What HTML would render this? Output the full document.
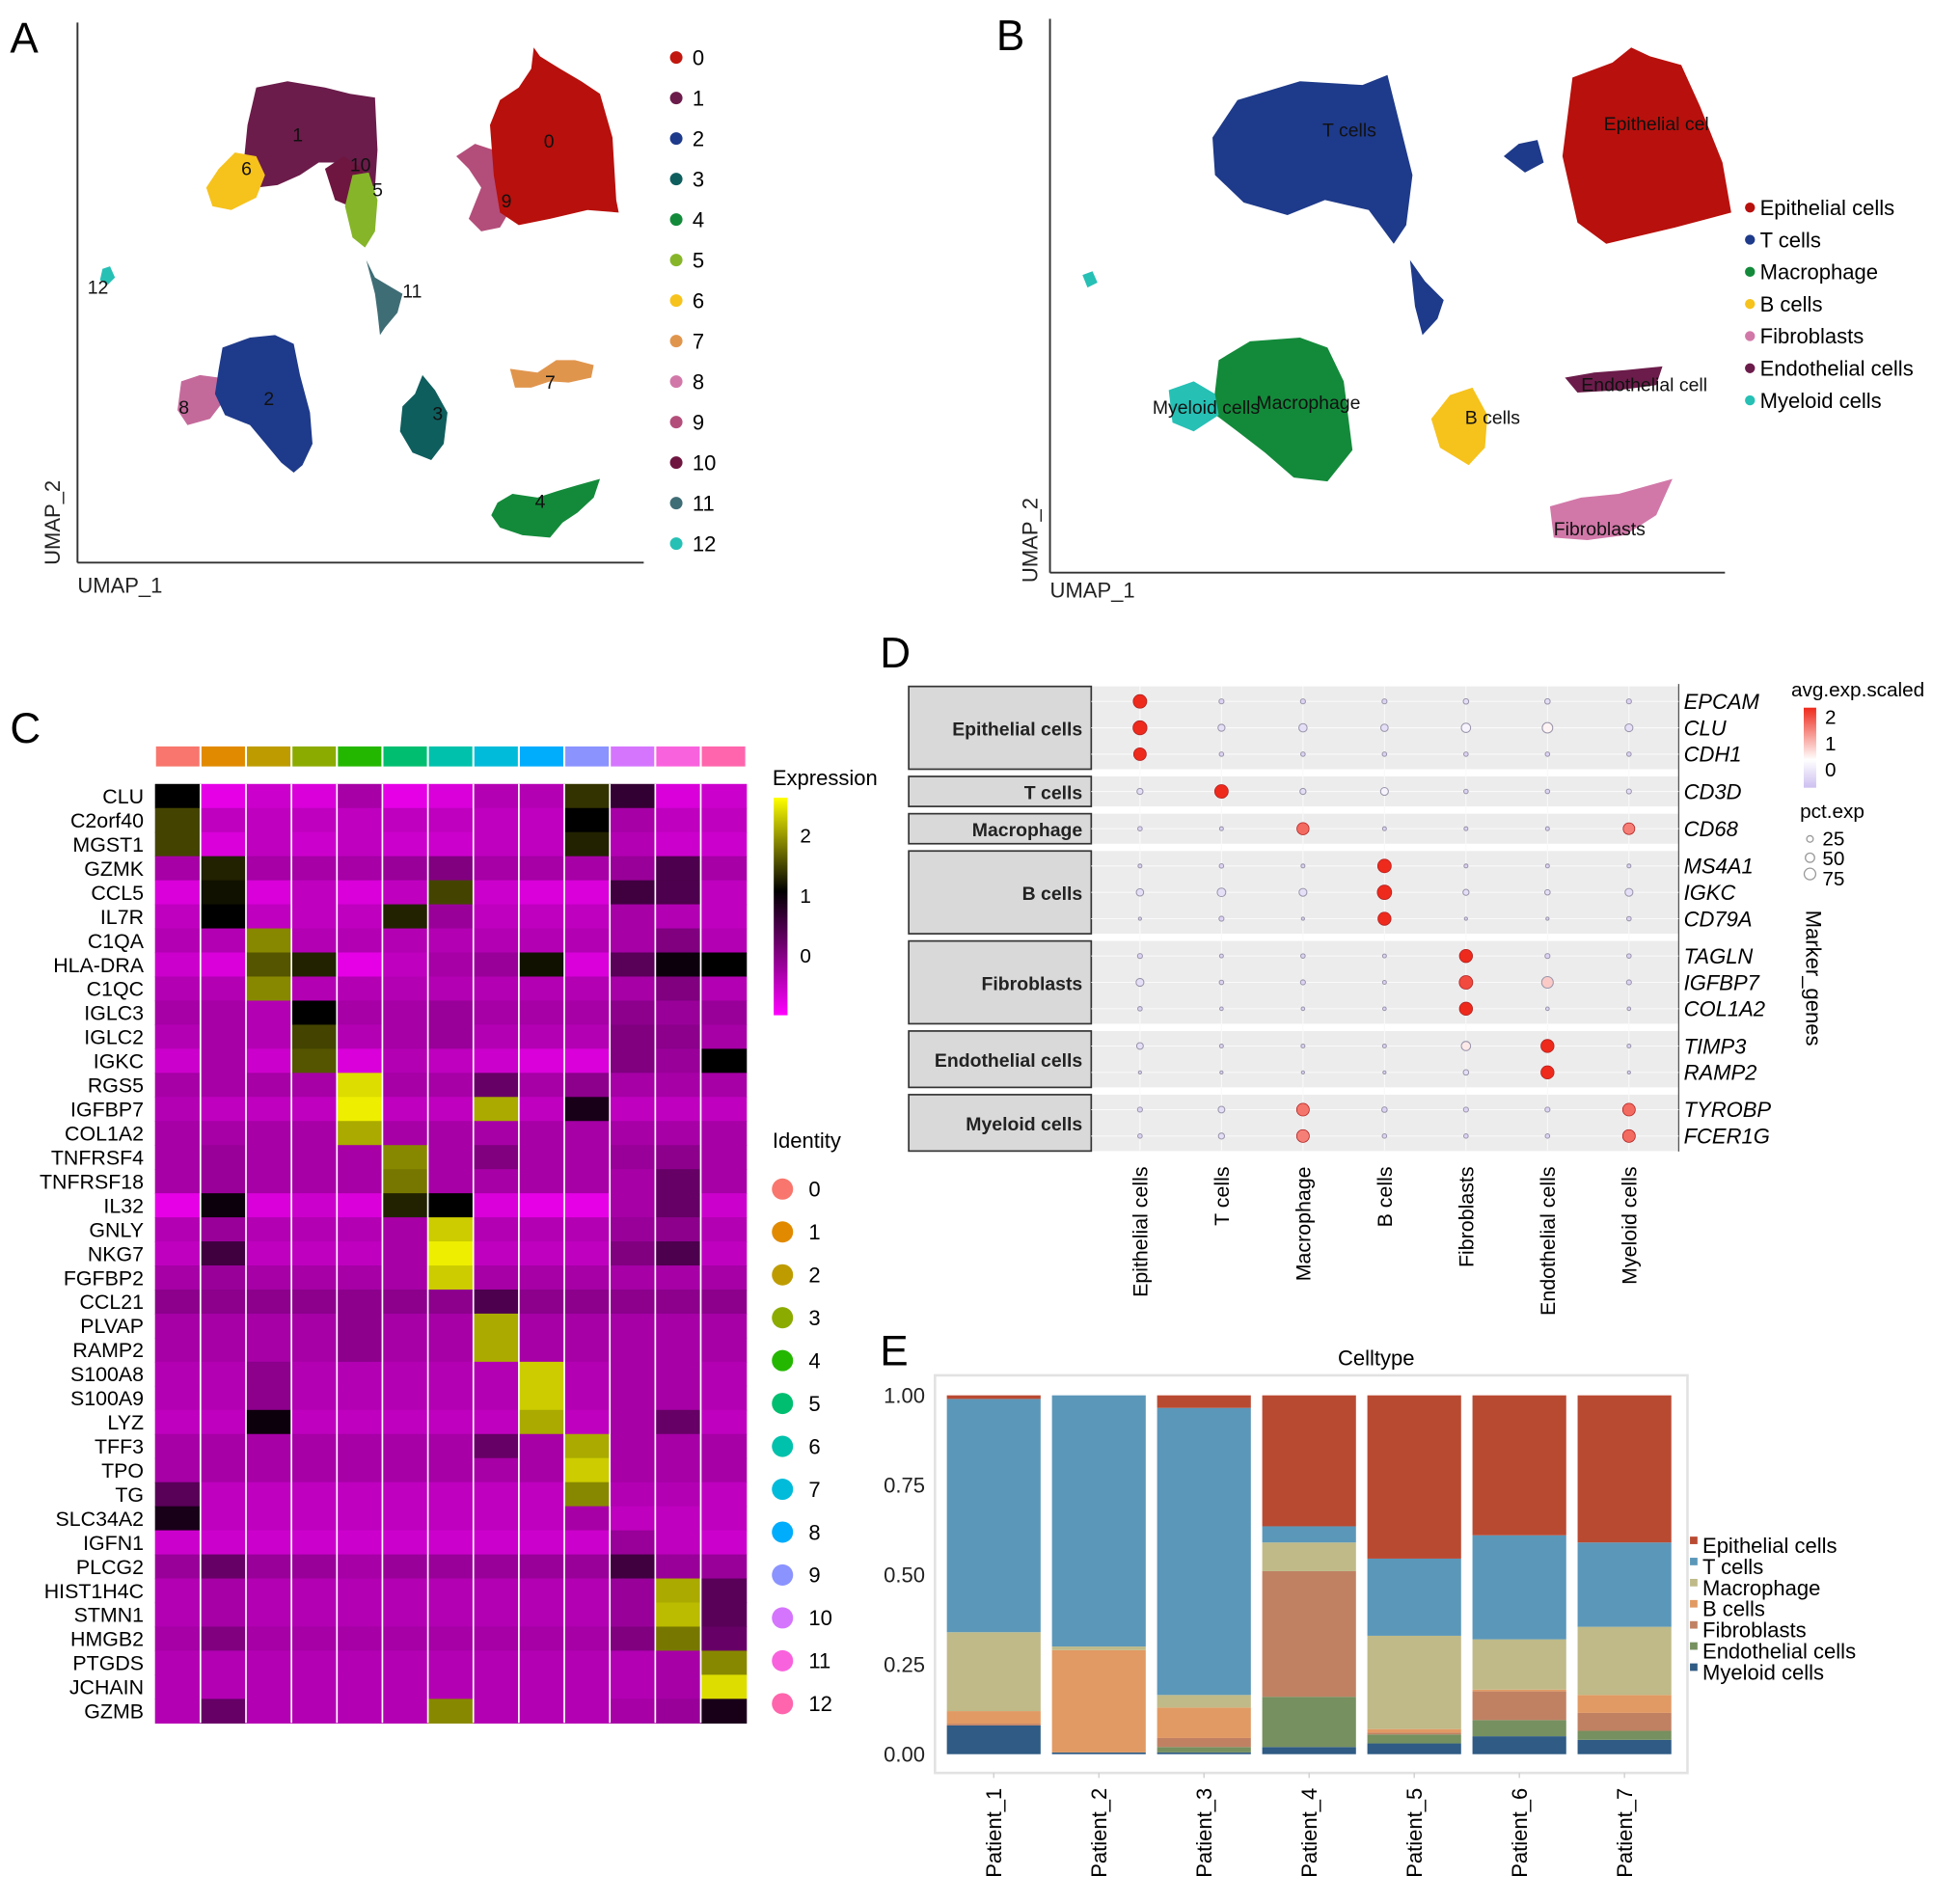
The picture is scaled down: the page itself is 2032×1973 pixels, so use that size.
<!DOCTYPE html>
<html><head><meta charset="utf-8">
<style>
html,body{margin:0;padding:0;background:#fff;}
svg{display:block;font-family:"Liberation Sans",Arial,sans-serif;}
</style></head>
<body>
<svg id="fig" width="2032" height="1973" viewBox="0 0 2032 1973" xmlns="http://www.w3.org/2000/svg">
<g id="root" transform="scale(1.2959,1.2963)">
<rect x="0" y="0" width="1568" height="1522" fill="#fff"/>

<!-- Panel A -->
<g>
<text x="8" y="42" font-size="34">A</text>
<line x1="62" y1="18" x2="62" y2="450" stroke="#333" stroke-width="1.5"/>
<line x1="62" y1="450" x2="515" y2="450" stroke="#333" stroke-width="1.5"/>
<text x="62" y="474" font-size="17" fill="#222">UMAP_1</text>
<text transform="translate(48,452) rotate(-90)" font-size="17" fill="#222">UMAP_2</text>
<g>
<polygon fill="#b34e7a" points="365,125 380,115 395,120 405,140 410,165 400,182 385,185 375,175 385,150 375,135"/>
<polygon fill="#b8100c" points="427,38 432,45 440,50 448,55 465,65 480,75 490,110 493,160 495,170 470,168 440,175 415,180 400,170 395,140 392,100 400,80 415,70 425,55"/>
<polygon fill="#6b1c4a" points="205,70 230,65 260,70 280,75 300,78 302,120 300,150 288,142 270,130 255,130 240,140 222,148 205,150 195,130 198,100"/>
<polygon fill="#f6c21c" points="188,122 205,125 212,140 205,158 185,168 170,165 165,150 175,135"/>
<polygon fill="#6e1640" points="260,135 275,125 290,135 292,155 280,165 268,160"/>
<polygon fill="#86b52a" points="282,140 295,138 302,160 300,185 292,198 282,190 276,165"/>
<polygon fill="#3f6d75" points="293,208 300,222 310,228 322,235 318,250 308,262 304,268 302,250 300,235"/>
<polygon fill="#26c0b5" points="82,215 88,213 92,222 86,228 80,224"/>
<polygon fill="#c46a9b" points="145,305 160,300 175,302 178,322 168,335 150,340 142,328"/>
<polygon fill="#1e3a8a" points="178,278 200,270 220,268 235,275 240,300 248,330 250,355 242,372 235,378 225,370 210,352 200,340 180,332 172,315 175,295"/>
<polygon fill="#0f5e5e" points="338,300 348,312 358,330 355,355 345,368 330,362 320,345 322,325 332,315"/>
<polygon fill="#e0954d" points="408,295 430,298 445,288 460,288 475,292 473,302 455,306 440,305 425,310 412,310"/>
<polygon fill="#138a3a" points="398,402 410,395 430,398 445,393 462,388 480,383 475,398 462,410 450,418 440,430 418,428 400,422 393,412"/>
</g>
<g font-size="15" fill="#111">
<text x="435" y="118">0</text><text x="234" y="113">1</text><text x="193" y="140">6</text><text x="280" y="137">10</text><text x="298" y="157">5</text><text x="401" y="166">9</text><text x="322" y="238">11</text><text x="70" y="235">12</text><text x="143" y="331">8</text><text x="211" y="324">2</text><text x="346" y="336">3</text><text x="436" y="311">7</text><text x="428" y="406">4</text>
</g>
<g id="legendA"></g>
</g>

<!-- Panel B -->
<g>
<text x="797" y="40" font-size="34">B</text>
<line x1="840" y1="15" x2="840" y2="458" stroke="#333" stroke-width="1.5"/>
<line x1="840" y1="458" x2="1380" y2="458" stroke="#333" stroke-width="1.5"/>
<text x="840" y="478" font-size="17" fill="#222">UMAP_1</text>
<text transform="translate(830,466) rotate(-90)" font-size="17" fill="#222">UMAP_2</text>
<g>
<polygon fill="#1e3a8a" points="970,110 990,80 1040,65 1090,68 1110,60 1120,100 1130,140 1125,180 1115,195 1095,168 1060,160 1030,172 995,162 972,140"/>
<polygon fill="#1e3a8a" points="1128,208 1140,225 1155,240 1150,255 1138,268 1132,245"/>
<polygon fill="#b8100c" points="1258,62 1290,50 1305,38 1320,45 1345,52 1360,85 1378,130 1385,170 1340,182 1285,195 1262,178 1250,125"/>
<polygon fill="#1e3a8a" points="1203,125 1215,115 1230,112 1235,130 1220,138"/>
<polygon fill="#26c0b5" points="866,220 874,217 878,226 870,230"/>
<polygon fill="#138a3a" points="975,288 1000,273 1040,270 1062,278 1075,305 1082,360 1062,385 1035,382 1012,362 990,345 970,330"/>
<polygon fill="#26c0b5" points="935,312 955,305 972,315 975,332 955,345 938,338"/>
<polygon fill="#f6c21c" points="1160,316 1178,310 1190,332 1188,358 1175,372 1152,358 1145,335"/>
<polygon fill="#6b1c4a" points="1252,302 1275,298 1300,296 1330,293 1325,308 1295,312 1262,314"/>
<polygon fill="#d178a8" points="1240,405 1265,398 1295,395 1320,388 1338,383 1325,412 1300,428 1270,432 1243,430"/>
</g>
<g font-size="15" fill="#111">
<text x="1058" y="109">T cells</text><text x="1283" y="104">Epithelial cel</text><text x="922" y="331">Myeloid cells</text><text x="1005" y="327">Macrophage</text><text x="1172" y="339">B cells</text><text x="1265" y="313">Endothelial cell</text><text x="1243" y="428">Fibroblasts</text>
</g>
<g id="legendB"></g>
</g>

<!-- Panel C -->
<g>
<text x="8" y="594" font-size="34">C</text>
<g id="heat"></g>
<text x="618" y="628" font-size="17">Expression</text>
<defs><linearGradient id="gradC" x1="0" y1="1" x2="0" y2="0">
<stop offset="0" stop-color="#ff00ff"/><stop offset="0.571" stop-color="#000"/><stop offset="1" stop-color="#ffff00"/></linearGradient>
<linearGradient id="gradD" x1="0" y1="1" x2="0" y2="0">
<stop offset="0" stop-color="#cdbff0"/><stop offset="0.35" stop-color="#fff"/><stop offset="1" stop-color="#ee2a1c"/></linearGradient></defs>
<rect x="619" y="638" width="11" height="174" fill="url(#gradC)"/>
<g font-size="16"><text x="640" y="674">2</text><text x="640" y="722">1</text><text x="640" y="770">0</text></g>
<text x="618" y="918" font-size="17">Identity</text>
<g id="legendC"></g>
</g>

<!-- Panel D -->
<g>
<text x="704" y="534" font-size="34">D</text>
<g id="dot"></g>
<text x="1433" y="557" font-size="16">avg.exp.scaled</text>
<rect x="1443" y="566" width="10" height="64" fill="url(#gradD)"/>
<g font-size="16"><text x="1460" y="579">2</text><text x="1460" y="600">1</text><text x="1460" y="621">0</text></g>
<text x="1440" y="654" font-size="16">pct.exp</text>
<g fill="none" stroke="#999">
<circle cx="1448" cy="671" r="2.6"/><circle cx="1448" cy="686" r="3.7"/><circle cx="1448" cy="699" r="4.6"/></g>
<g font-size="16"><text x="1458" y="676">25</text><text x="1458" y="692">50</text><text x="1458" y="708">75</text></g>
<text transform="translate(1445,728) rotate(90)" font-size="17">Marker_genes</text>
</g>

<!-- Panel E -->
<g>
<text x="704" y="1092" font-size="34">E</text>
<text x="1101" y="1092" font-size="17" text-anchor="middle">Celltype</text>
<rect x="748" y="1100" width="602" height="318" fill="#fff" stroke="#e2e2e2" stroke-width="2"/>
<g id="bars"></g>
</g>
</g>
</svg>
<script>
const NS="http://www.w3.org/2000/svg";
function mk(tag,attrs,parent){const e=document.createElementNS(NS,tag);for(const k in attrs)e.setAttribute(k,attrs[k]);parent.appendChild(e);return e;}

// ---- Legend A / B ----
const clusterIds=["0","1","2","3","4","5","6","7","8","9","10","11","12"];
const clusterColorsA=["#c1170e","#6b1c4a","#1e3a8a","#0f5e5e","#138a3a","#86b52a","#f6c21c","#e0954d","#d178a8","#b34e7a","#6e1640","#3f6d75","#26c0b5"];
const gA=document.getElementById('legendA');
clusterIds.forEach((c,i)=>{const y=46+32.4*i;
 const d=mk('circle',{cx:541,cy:y,r:5,fill:clusterColorsA[i]},gA);
 
 
 const t=mk('text',{x:554,y:y+6,'font-size':17},gA);t.textContent=c;
 
 });
const cellTypes=["Epithelial cells","T cells","Macrophage","B cells","Fibroblasts","Endothelial cells","Myeloid cells"];
const cellColorsB=["#b8100c","#1e3a8a","#138a3a","#f6c21c","#d178a8","#6b1c4a","#26c0b5"];
const gB=document.getElementById('legendB');
cellTypes.forEach((c,i)=>{const y=166+25.7*i;
 const d=mk('circle',{cx:1400,cy:y,r:4,fill:cellColorsB[i]},gB);
 
 
 const t=mk('text',{x:1408,y:y+6,'font-size':17},gB);t.textContent=c;
 
 });

// ---- Panel C heatmap ----
const heatGenes=["CLU","C2orf40","MGST1","GZMK","CCL5","IL7R","C1QA","HLA-DRA","C1QC","IGLC3","IGLC2","IGKC","RGS5","IGFBP7","COL1A2","TNFRSF4","TNFRSF18","IL32","GNLY","NKG7","FGFBP2","CCL21","PLVAP","RAMP2","S100A8","S100A9","LYZ","TFF3","TPO","TG","SLC34A2","IGFN1","PLCG2","HIST1H4C","STMN1","HMGB2","PTGDS","JCHAIN","GZMB"];
const identColors=["#F8766D","#E18A00","#BE9C00","#8CAB00","#24B700","#00BE70","#00C1AB","#00BBDA","#00ACFC","#8B93FF","#D575FE","#F962DD","#FF65AC"];
const heatValues=[
[1.0,-0.8,-0.6,-0.7,-0.3,-0.8,-0.7,-0.4,-0.4,1.3,0.6,-0.7,-0.6],
[1.4,-0.5,-0.5,-0.5,-0.5,-0.5,-0.5,-0.5,-0.5,1.0,-0.3,-0.5,-0.5],
[1.4,-0.7,-0.5,-0.6,-0.5,-0.6,-0.6,-0.5,-0.5,1.2,-0.4,-0.6,-0.6],
[-0.3,1.2,-0.3,-0.3,-0.3,-0.2,0.0,-0.3,-0.3,-0.3,-0.2,0.4,-0.3],
[-0.7,1.1,-0.7,-0.5,-0.7,-0.5,1.4,-0.6,-0.7,-0.7,0.5,0.4,-0.5],
[-0.5,1.0,-0.5,-0.5,-0.5,1.2,-0.2,-0.5,-0.5,-0.5,-0.3,-0.4,-0.5],
[-0.4,-0.4,1.8,-0.4,-0.4,-0.4,-0.4,-0.4,-0.4,-0.4,-0.3,0.0,-0.4],
[-0.6,-0.7,1.5,1.2,-0.8,-0.5,-0.3,-0.2,1.1,-0.7,0.3,0.9,1.0],
[-0.4,-0.4,1.8,-0.4,-0.4,-0.4,-0.4,-0.4,-0.4,-0.4,-0.3,0.0,-0.4],
[-0.3,-0.3,-0.4,1.0,-0.3,-0.3,-0.2,-0.3,-0.3,-0.3,-0.1,-0.2,-0.2],
[-0.4,-0.3,-0.4,1.4,-0.4,-0.3,-0.2,-0.4,-0.4,-0.4,0.0,-0.1,-0.3],
[-0.6,-0.3,-0.6,1.5,-0.7,-0.4,-0.5,-0.6,-0.7,-0.7,0.0,-0.2,1.0],
[-0.3,-0.3,-0.3,-0.3,2.3,-0.3,-0.3,0.2,-0.3,-0.1,-0.3,-0.3,-0.3],
[-0.4,-0.5,-0.5,-0.5,2.4,-0.5,-0.5,2.0,-0.5,0.8,-0.5,-0.5,-0.5],
[-0.3,-0.3,-0.3,-0.3,2.0,-0.3,-0.3,-0.3,-0.3,-0.3,-0.3,-0.3,-0.3],
[-0.3,-0.2,-0.3,-0.3,-0.3,1.8,-0.3,0.0,-0.3,-0.3,-0.2,-0.1,-0.3],
[-0.3,-0.2,-0.3,-0.3,-0.3,1.7,-0.3,-0.3,-0.3,-0.3,-0.3,0.2,-0.3],
[-0.8,0.9,-0.7,-0.6,-0.7,1.2,1.0,-0.7,-0.8,-0.8,-0.3,0.2,-0.6],
[-0.4,-0.2,-0.4,-0.4,-0.4,-0.3,2.2,-0.4,-0.4,-0.4,-0.2,-0.1,-0.4],
[-0.5,0.5,-0.5,-0.5,-0.5,-0.3,2.4,-0.5,-0.5,-0.5,0.0,0.4,-0.5],
[-0.3,-0.2,-0.3,-0.3,-0.3,-0.3,2.2,-0.3,-0.3,-0.3,-0.3,-0.3,-0.3],
[-0.1,-0.1,-0.1,-0.1,-0.1,-0.1,-0.1,0.4,-0.1,-0.1,-0.1,-0.1,-0.1],
[-0.3,-0.3,-0.3,-0.3,-0.1,-0.3,-0.3,2.0,-0.3,-0.3,-0.3,-0.3,-0.3],
[-0.3,-0.3,-0.3,-0.3,-0.1,-0.3,-0.3,2.0,-0.3,-0.3,-0.3,-0.3,-0.3],
[-0.4,-0.4,-0.1,-0.4,-0.4,-0.4,-0.4,-0.4,2.2,-0.4,-0.3,-0.3,-0.4],
[-0.4,-0.4,-0.1,-0.4,-0.4,-0.4,-0.4,-0.4,2.2,-0.4,-0.3,-0.3,-0.4],
[-0.5,-0.5,0.9,-0.5,-0.5,-0.5,-0.5,-0.5,2.0,-0.5,-0.3,0.2,-0.5],
[-0.3,-0.3,-0.3,-0.3,-0.3,-0.3,-0.3,0.2,-0.3,2.0,-0.3,-0.3,-0.3],
[-0.3,-0.3,-0.3,-0.3,-0.3,-0.3,-0.3,-0.3,-0.3,2.2,-0.3,-0.3,-0.3],
[0.3,-0.5,-0.5,-0.5,-0.5,-0.5,-0.5,-0.5,-0.5,1.8,-0.4,-0.4,-0.5],
[0.8,-0.5,-0.5,-0.5,-0.5,-0.5,-0.5,-0.5,-0.5,-0.3,-0.5,-0.5,-0.5],
[-0.6,-0.6,-0.6,-0.6,-0.6,-0.6,-0.6,-0.6,-0.6,-0.6,-0.2,-0.5,-0.6],
[-0.2,0.2,-0.2,-0.2,-0.3,-0.2,-0.2,-0.2,-0.2,-0.2,0.5,-0.2,-0.2],
[-0.4,-0.3,-0.4,-0.4,-0.4,-0.4,-0.4,-0.4,-0.4,-0.4,-0.2,2.0,0.3],
[-0.4,-0.3,-0.4,-0.4,-0.4,-0.4,-0.4,-0.4,-0.4,-0.4,-0.2,2.1,0.3],
[-0.3,0.0,-0.3,-0.3,-0.3,-0.3,-0.3,-0.3,-0.3,-0.3,0.0,1.7,0.2],
[-0.4,-0.4,-0.4,-0.4,-0.4,-0.4,-0.4,-0.4,-0.4,-0.4,-0.4,-0.3,1.8],
[-0.4,-0.4,-0.4,-0.4,-0.4,-0.4,-0.4,-0.4,-0.4,-0.4,-0.4,-0.3,2.3],
[-0.4,0.2,-0.4,-0.4,-0.4,-0.4,1.8,-0.4,-0.4,-0.4,-0.3,-0.2,0.8]];
function heatColor(v){v=Math.max(-1,Math.min(2.5,v));
 if(v<=1){const t=(v+1)/2;const c=Math.round(255*(1-t));return `rgb(${c},0,${c})`;}
 const t=(v-1)/1.5;const c=Math.round(255*t);return `rgb(${c},${c},0)`;}
const hx0=124,hx1=597,hy0=627,hy1=1378;
const hxs=i=>hx0+(hx1-hx0)*i/clusterIds.length;
const hys=j=>hy0+(hy1-hy0)*j/heatGenes.length;
const gH=document.getElementById('heat');
clusterIds.forEach((c,i)=>{
 const r=mk('rect',{x:hxs(i)+0.8,y:597,width:hxs(i+1)-hxs(i)-1.6,height:16,fill:identColors[i]},gH);
 
 });
heatGenes.forEach((g,j)=>{
 heatValues[j].forEach((v,i)=>{
  const r=mk('rect',{x:hxs(i),y:hys(j),width:hxs(i+1)-hxs(i)+0.5,height:hys(j+1)-hys(j)+0.5,fill:heatColor(v)},gH);
  
  });
 const t=mk('text',{x:115,y:(hys(j)+hys(j+1))/2+6,'font-size':16.5,'text-anchor':'end'},gH);t.textContent=g;
 
 });
for(let i=1;i<clusterIds.length;i++){
 const l=mk('line',{x1:hxs(i),x2:hxs(i),y1:hy0,y2:hy1,stroke:'#fff','stroke-width':1.3},gH);
 
 }
const gLC=document.getElementById('legendC');
clusterIds.forEach((c,i)=>{const y=951+34.3*i;
 const d=mk('circle',{cx:626,cy:y,r:8.5,fill:identColors[i]},gLC);
 
 
 const t=mk('text',{x:647,y:y+6,'font-size':17},gLC);t.textContent=c;
 
 });

// ---- Panel D dot plot ----
const dotGenes=["EPCAM","CLU","CDH1","CD3D","CD68","MS4A1","IGKC","CD79A","TAGLN","IGFBP7","COL1A2","TIMP3","RAMP2","TYROBP","FCER1G"];
const dotFacets=["Epithelial cells","T cells","Macrophage","B cells","Fibroblasts","Endothelial cells","Myeloid cells"];
const dotFacetSizes=[3,1,1,3,3,2,2];
const dotAvg=[
[2,-0.4,-0.4,-0.4,-0.3,-0.3,-0.4],
[2,-0.3,-0.3,-0.3,-0.1,0.1,-0.3],
[2,-0.4,-0.4,-0.4,-0.4,-0.4,-0.4],
[-0.3,2,-0.3,-0.1,-0.4,-0.4,-0.3],
[-0.4,-0.4,1.4,-0.4,-0.4,-0.4,1.2],
[-0.4,-0.4,-0.4,2,-0.4,-0.4,-0.4],
[-0.3,-0.3,-0.3,2,-0.3,-0.3,-0.3],
[-0.4,-0.4,-0.4,2,-0.4,-0.4,-0.4],
[-0.4,-0.4,-0.4,-0.4,2,-0.4,-0.4],
[-0.3,-0.4,-0.4,-0.4,1.7,0.5,-0.4],
[-0.4,-0.4,-0.4,-0.4,2,-0.4,-0.4],
[-0.3,-0.4,-0.4,-0.4,0.2,2,-0.4],
[-0.4,-0.4,-0.4,-0.4,-0.3,2,-0.4],
[-0.4,-0.3,1.3,-0.4,-0.4,-0.4,1.4],
[-0.4,-0.3,1.2,-0.4,-0.4,-0.4,1.4]];
const dotPct=[
[75,10,10,10,12,12,10],
[80,20,28,22,35,45,25],
[65,8,8,8,8,8,8],
[15,75,15,25,8,8,10],
[8,6,60,6,6,6,55],
[6,8,6,75,6,6,6],
[22,30,25,85,15,12,25],
[4,10,4,70,4,4,8],
[10,6,8,6,70,10,8],
[25,8,10,6,75,55,10],
[8,5,5,5,70,5,5],
[18,6,6,6,35,70,6],
[4,4,4,4,12,70,4],
[10,18,65,12,10,10,65],
[8,15,65,8,8,8,65]];
function dotColor(v){
 if(v>=0){const t=Math.min(1,v/2);return `rgb(${Math.round(255-17*t)},${Math.round(255-213*t)},${Math.round(255-227*t)})`;}
 const t=Math.min(1,-v/0.6);return `rgb(${Math.round(255-50*t)},${Math.round(255-64*t)},${Math.round(255-15*t)})`;}
const dxs=i=>912+65.2*i;
const facetOfRow=[];dotFacetSizes.forEach((n,f)=>{for(let k=0;k<n;k++)facetOfRow.push(f);});
const dys=k=>561+21.1*k+8.7*facetOfRow[k];
const gD=document.getElementById('dot');
let rowStart=0;
dotFacets.forEach((f,fi)=>{
 const n=dotFacetSizes[fi];
 const top=dys(rowStart)-12,bot=dys(rowStart+n-1)+12;
 const bg=mk('rect',{x:873,y:top,width:470,height:bot-top,fill:'#ececec'},gD);
 
 
 const s=mk('rect',{x:727,y:top,width:146,height:bot-top,fill:'#d9d9d9',stroke:'#333','stroke-width':1.3},gD);
 
 
 const t=mk('text',{x:866,y:(top+bot)/2+6,'font-size':15,'font-weight':'bold','text-anchor':'end',fill:'#222'},gD);t.textContent=f;
 
 
 rowStart+=n;});
for(let i=0;i<dotFacets.length;i++){
 const l=mk('line',{x1:dxs(i),x2:dxs(i),y1:549,y2:920,stroke:'#fafafa','stroke-width':0.8},gD);
 
 }
const ax=mk('line',{x1:1343,x2:1343,y1:547,y2:921,stroke:'#555','stroke-width':1},gD);


dotGenes.forEach((g,k)=>{
 const y=dys(k);
 const gl=mk('line',{x1:873,x2:1343,y1:y,y2:y,stroke:'#fafafa','stroke-width':0.8},gD);
 
 
 dotAvg[k].forEach((v,i)=>{
  const r=5.6*Math.sqrt(dotPct[k][i]/80);
  const c=mk('circle',{cx:dxs(i),cy:y,r:r,fill:dotColor(v),stroke:v>1?'#b02020':'#9a95aa','stroke-width':v>1?0.6:0.8},gD);
  
  });
 const t=mk('text',{x:1347,y:y+6,'font-size':17,'font-style':'italic'},gD);t.textContent=g;
 
 });
dotFacets.forEach((f,i)=>{
 const t=mk('text',{transform:`translate(${dxs(i)+6},933) rotate(-90)`,'font-size':16.5,'text-anchor':'end'},gD);t.textContent=f;
 
 });

// ---- Panel E stacked bars ----
const patients=["Patient_1","Patient_2","Patient_3","Patient_4","Patient_5","Patient_6","Patient_7"];
const stackTypes=["Myeloid cells","Endothelial cells","Fibroblasts","B cells","Macrophage","T cells","Epithelial cells"];
const stackColors=["#2f5b84","#76905f","#c08163","#e19a63","#bfba88","#5b97b9","#b94a32"];
const myeloidFrac=[0.08,0.005,0.005,0.02,0.03,0.05,0.04];
const endothelialFrac=[0.0,0.0,0.015,0.14,0.025,0.045,0.025];
const fibroblastFrac=[0.005,0.0,0.025,0.35,0.005,0.08,0.05];
const bcellFrac=[0.035,0.285,0.085,0.0,0.01,0.005,0.05];
const macrophageFrac=[0.22,0.01,0.035,0.08,0.26,0.14,0.19];
const tcellFrac=[0.65,0.70,0.80,0.045,0.215,0.29,0.235];
const epithelialFrac=[0.01,0.0,0.035,0.365,0.455,0.39,0.41];
const stackSeries=[myeloidFrac,endothelialFrac,fibroblastFrac,bcellFrac,macrophageFrac,tcellFrac,epithelialFrac];
const yTicks=[0,0.25,0.5,0.75,1];
const yTickLabels=["0.00","0.25","0.50","0.75","1.00"];
const eY=v=>1403-287*v;
const eX=i=>795+84.1*i;
const bw=75;
const gE=document.getElementById('bars');
patients.forEach((p,i)=>{
 const tot=stackSeries.reduce((s,a)=>s+a[i],0);
 let acc=0;
 stackSeries.forEach((ser,s)=>{
  const v=ser[i]/tot;
  const r=mk('rect',{x:eX(i)-bw/2,y:eY(acc+v),width:bw,height:eY(acc)-eY(acc+v),fill:stackColors[s]},gE);
  
  
  acc+=v;});
 const t=mk('text',{transform:`translate(${eX(i)+6},1430) rotate(-90)`,'font-size':17,'text-anchor':'end'},gE);t.textContent=p;
 
 
 const tk=mk('line',{x1:eX(i),x2:eX(i),y1:1418,y2:1422,stroke:'#ccc'},gE);
 
 });
yTicks.forEach((v,k)=>{
 const t=mk('text',{x:740,y:eY(v)+6,'font-size':17,'text-anchor':'end',fill:'#222'},gE);t.textContent=yTickLabels[k];
 
 });
const legendOrder=[6,5,4,3,2,1,0];
legendOrder.forEach((s,k)=>{const y=1236+16.9*k;
 const r=mk('rect',{x:1352,y:y-7,width:6,height:6,fill:stackColors[s]},gE);
 
 
 const t=mk('text',{x:1362,y:y+6,'font-size':17},gE);t.textContent=stackTypes[s];
 
 });
</script>
</body></html>
